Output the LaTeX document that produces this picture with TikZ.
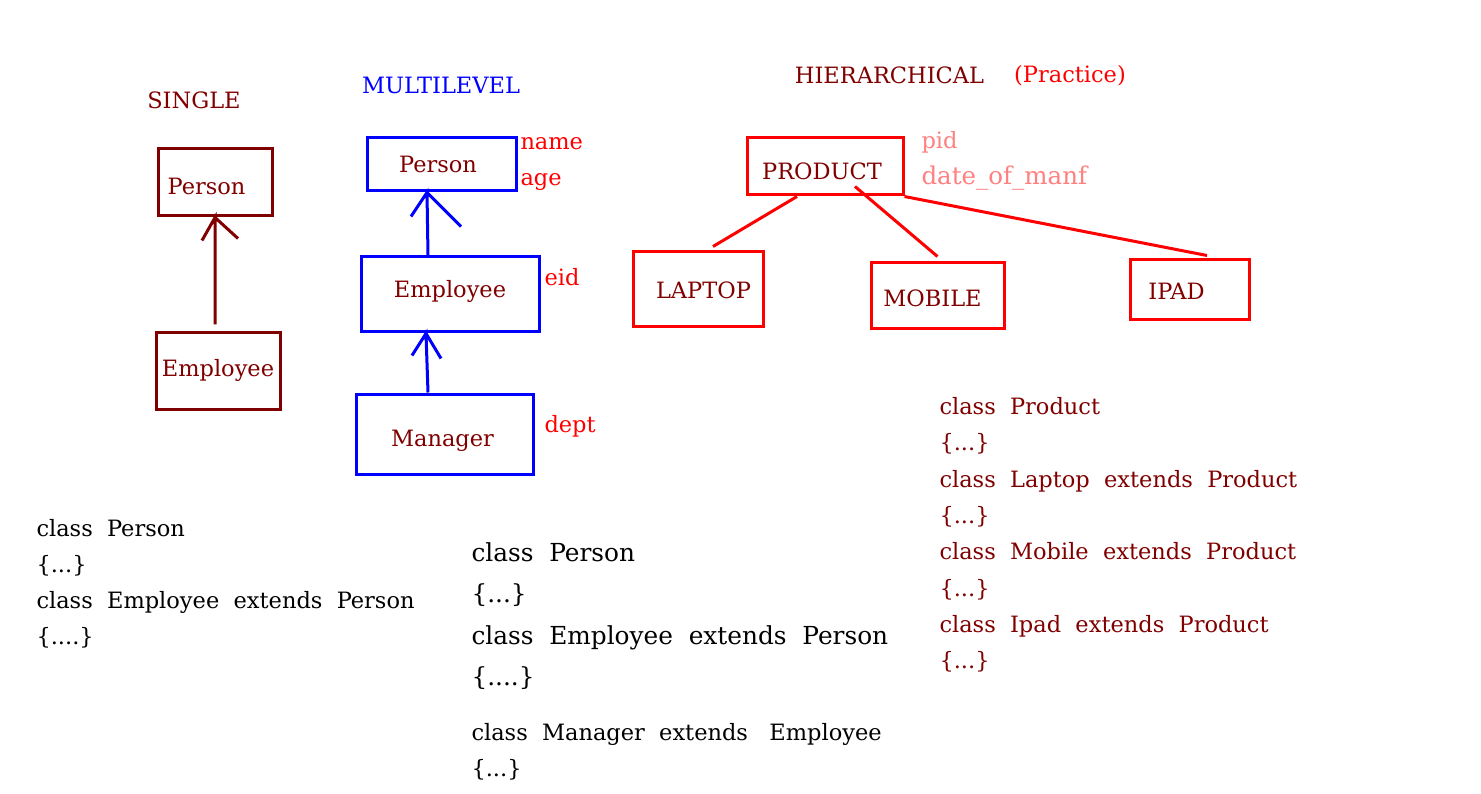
\documentclass[tikz,border=0pt]{standalone}
\usepackage{fontspec}
\setmainfont{DejaVu Serif}
\definecolor{darkmaroon}{RGB}{128,0,0}
\definecolor{lightred}{RGB}{255,128,128}

\begin{document}
\begin{tikzpicture}[x=1pt, y=-1pt, line width=3pt,
  every node/.style={font=\fontsize{22.5}{27}\selectfont, inner sep=0pt},
  sbox/.style={draw=darkmaroon, text=darkmaroon, text depth=0pt},
  mbox/.style={draw=blue, text=darkmaroon, text depth=0pt},
  hbox/.style={draw=red, text=darkmaroon, text depth=0pt},
  attr/.style={text=red, anchor=base west},
  code/.style={align=left, anchor=north west, font=\fontsize{22.5}{36}\selectfont}]

\path[use as bounding box, fill=white] (0,0) rectangle (1481,794);

% single
\node[text=darkmaroon, anchor=base] (single) at (194,109) {SINGLE};
\node[sbox, minimum width=114, minimum height=67, text height=23.4] (per1) at (215,182.5) {Person\kern17pt};
\node[sbox, minimum width=124, minimum height=76, text height=10.4] (emp1) at (218,371) {Employee};
\draw[darkmaroon] ([shift={(-3,-7)}]emp1.north) -- (per1.south) coordinate (s1) -- ++(-13,23) (s1) -- ++(23,21);

% multilevel
\node[text=blue, anchor=base] (multi) at (441,94) {MULTILEVEL};
\node[mbox, minimum width=149, minimum height=53, text height=15.4] (per2) at (441.5,164.5) {Person\kern7pt};
\node[mbox, minimum width=178, minimum height=75, text height=5.4] (emp2) at (450,294.5) {Employee};
\node[mbox, minimum width=177, minimum height=80, text height=24.4] (man2) at (444.5,434) {Manager\kern4pt};
\node[attr] (name) at (519,150) {name};
\node[attr] (age) at (519,186) {age};
\node[attr] (eid) at (543,286) {eid};
\node[attr] (dept) at (543,432) {dept};
\draw[blue] ([xshift=-22pt]emp2.north) -- ([xshift=-14.5pt]per2.south) coordinate (t1) -- ++(-16,24) (t1) -- ++(34,34);
\draw[blue] ([xshift=-16.5pt]man2.north) -- ([xshift=-24pt]emp2.south) coordinate (t2) -- ++(-14,22) (t2) -- ++(15,25);

% hierarchical
\node[text=darkmaroon, anchor=base] (hier) at (889.5,84) {HIERARCHICAL};
\node[text=red, anchor=base] (prac) at (1070,83) {(Practice)};
\node[hbox, minimum width=156, minimum height=57, text height=25.4] (prod) at (825,166.5) {PRODUCT\kern6pt};
\node[hbox, minimum width=130, minimum height=75, text height=17.4] (lap) at (698,289.5) {\kern11pt LAPTOP};
\node[hbox, minimum width=133, minimum height=66, text height=20.4] (mob) at (937.5,296) {MOBILE\kern10pt};
\node[hbox, minimum width=119, minimum height=60, text height=18.4] (ipad) at (1189.5,290) {IPAD\kern26pt};
\node[attr, text=lightred] (pid) at (920,149) {pid};
\node[attr, text=lightred, font=\fontsize{24.5}{27}\selectfont] (manf) at (920,185) {date\_of\_manf};
\draw[red] ([xshift=-28pt]prod.south) -- ([shift={(15,-4)}]lap.north);
\draw[red] ([shift={(30,-10)}]prod.south) -- ([yshift=5pt]mob.north);
\draw[red] (prod.south east) -- ([shift={(17.5,-3)}]ipad.north);

% code
\node[code] (code1) at (35,518) {class\ \ Person\\ \{...\}\\ class\ \ Employee\ \ extends\ \ Person\\ \{....\}};
\node[code, font=\fontsize{24.8}{41.5}\selectfont] (code2) at (470,541) {class\ \ Person\\ \{...\}\\ class\ \ Employee\ \ extends\ \ Person\\ \{....\}};
\node[code] (code3) at (470,722) {class\ \ Manager\ \ extends\ \ \ Employee\\ \{...\}};
\node[code, text=darkmaroon, font=\fontsize{22.5}{36.3}\selectfont] (code4) at (938,396) {class\ \ Product\\ \{...\}\\ class\ \ Laptop\ \ extends\ \ Product\\ \{...\}\\ class\ \ Mobile\ \ extends\ \ Product\\ \{...\}\\ class\ \ Ipad\ \ extends\ \ Product\\ \{...\}};

\end{tikzpicture}
\end{document}
